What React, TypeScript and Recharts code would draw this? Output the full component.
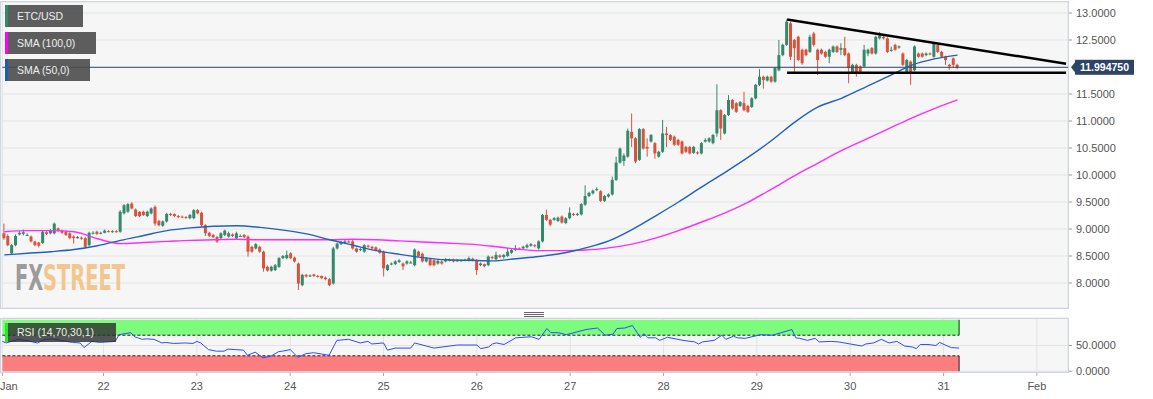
import React from 'react';
import { ComposedChart, Bar, Line, XAxis, YAxis, CartesianGrid, ReferenceLine, ReferenceArea } from 'recharts';

const W = 1153;
const SLOTS = 275; // hourly slots from Jan 20 22:00 to the right edge
const FONT = 'Arial, "Liberation Sans", sans-serif';
const GREEN = '#32896b';
const RED = '#d6543d';
const PANEL_BG = '#f6f6f6';

const tickIdx = [0, 26, 50, 74, 98, 122, 146, 170, 194, 218, 242, 266];
const tickLabels = ['Jan', '22', '23', '24', '25', '26', '27', '28', '29', '30', '31', 'Feb'];
const priceTicks = [8, 8.5, 9, 9.5, 10, 10.5, 11, 11.5, 12.5, 13];
const rsiTicks = [0, 50];
const lastPrice = 11.99475;

// hourly candles [open, high, low, close]
const ohlc: number[][] = [
  [8.92, 9.10, 8.80, 8.83], [8.87, 8.90, 8.68, 8.70], [8.55, 8.72, 8.52, 8.70], [8.70, 8.90, 8.68, 8.87],
  [8.90, 8.96, 8.88, 8.93], [8.91, 8.99, 8.88, 8.94], [8.89, 8.92, 8.87, 8.89], [8.86, 8.88, 8.75, 8.77],
  [8.77, 8.78, 8.68, 8.70], [8.75, 8.76, 8.66, 8.69], [8.74, 8.97, 8.72, 8.95], [8.94, 8.96, 8.89, 8.91],
  [8.92, 9.00, 8.90, 8.98], [8.92, 9.12, 8.90, 9.10], [9.01, 9.03, 8.95, 8.97], [8.97, 8.99, 8.91, 8.93],
  [8.95, 8.97, 8.87, 8.89], [8.92, 8.94, 8.81, 8.83], [8.86, 8.88, 8.73, 8.83], [8.83, 8.87, 8.82, 8.85],
  [8.84, 8.86, 8.80, 8.82], [8.83, 8.85, 8.64, 8.67], [8.70, 8.95, 8.68, 8.93], [8.93, 8.96, 8.90, 8.93],
  [8.95, 8.97, 8.89, 8.91], [8.92, 8.95, 8.90, 8.93], [8.93, 8.99, 8.92, 8.97], [8.96, 8.98, 8.94, 8.95],
  [8.95, 8.98, 8.93, 8.96], [8.96, 8.98, 8.93, 8.95], [8.95, 9.35, 8.93, 9.32], [9.29, 9.46, 9.27, 9.44],
  [9.32, 9.48, 9.30, 9.46], [9.47, 9.50, 9.36, 9.38], [9.36, 9.38, 9.22, 9.24], [9.32, 9.33, 9.22, 9.24],
  [9.32, 9.34, 9.24, 9.26], [9.24, 9.34, 9.22, 9.32], [9.29, 9.40, 9.27, 9.38], [9.41, 9.44, 9.06, 9.10],
  [9.15, 9.17, 9.05, 9.07], [9.06, 9.16, 9.04, 9.14], [9.14, 9.30, 9.12, 9.28], [9.28, 9.30, 9.24, 9.26],
  [9.28, 9.29, 9.22, 9.24], [9.24, 9.26, 9.20, 9.22], [9.23, 9.25, 9.20, 9.22], [9.22, 9.24, 9.19, 9.21],
  [9.20, 9.28, 9.18, 9.26], [9.20, 9.37, 9.18, 9.35], [9.35, 9.37, 9.27, 9.29], [9.30, 9.32, 9.04, 9.07],
  [9.07, 9.09, 8.87, 8.92], [8.93, 8.95, 8.85, 8.87], [8.89, 8.91, 8.83, 8.85], [8.85, 8.87, 8.74, 8.77],
  [8.83, 8.94, 8.81, 8.92], [8.89, 8.99, 8.87, 8.97], [8.86, 8.95, 8.84, 8.92], [8.90, 8.92, 8.85, 8.87],
  [8.83, 8.95, 8.81, 8.92], [8.87, 8.90, 8.85, 8.87], [8.89, 8.91, 8.83, 8.85], [8.86, 8.88, 8.49, 8.58],
  [8.67, 8.69, 8.56, 8.58], [8.64, 8.74, 8.62, 8.72], [8.67, 8.69, 8.56, 8.58], [8.58, 8.60, 8.21, 8.27],
  [8.30, 8.32, 8.21, 8.23], [8.23, 8.32, 8.21, 8.30], [8.24, 8.35, 8.22, 8.33], [8.30, 8.48, 8.28, 8.46],
  [8.46, 8.52, 8.44, 8.50], [8.46, 8.60, 8.44, 8.52], [8.55, 8.57, 8.44, 8.46], [8.47, 8.49, 8.38, 8.40],
  [8.36, 8.38, 7.87, 7.99], [7.96, 8.17, 7.94, 8.15], [8.15, 8.17, 8.10, 8.12], [8.13, 8.16, 8.11, 8.14],
  [8.16, 8.17, 8.11, 8.13], [8.13, 8.15, 8.10, 8.12], [8.13, 8.14, 8.07, 8.09], [8.10, 8.12, 8.05, 8.07],
  [8.07, 8.09, 7.94, 7.96], [7.99, 8.67, 7.97, 8.64], [8.64, 8.75, 8.62, 8.73], [8.72, 8.78, 8.70, 8.76],
  [8.74, 8.80, 8.72, 8.77], [8.77, 8.79, 8.74, 8.76], [8.77, 8.81, 8.62, 8.64], [8.64, 8.66, 8.56, 8.58],
  [8.61, 8.65, 8.59, 8.63], [8.58, 8.72, 8.56, 8.70], [8.69, 8.71, 8.65, 8.67], [8.67, 8.69, 8.62, 8.64],
  [8.66, 8.68, 8.59, 8.61], [8.62, 8.64, 8.54, 8.56], [8.58, 8.60, 8.12, 8.27], [8.24, 8.35, 8.22, 8.33],
  [8.35, 8.38, 8.33, 8.36], [8.35, 8.42, 8.33, 8.40], [8.39, 8.44, 8.37, 8.42], [8.36, 8.38, 8.24, 8.31],
  [8.36, 8.42, 8.34, 8.40], [8.38, 8.41, 8.36, 8.38], [8.33, 8.64, 8.31, 8.62], [8.58, 8.60, 8.48, 8.50],
  [8.54, 8.56, 8.38, 8.40], [8.40, 8.48, 8.38, 8.46], [8.44, 8.46, 8.31, 8.33], [8.42, 8.44, 8.31, 8.33],
  [8.36, 8.43, 8.34, 8.41], [8.40, 8.42, 8.34, 8.36], [8.40, 8.46, 8.38, 8.44], [8.42, 8.45, 8.40, 8.43],
  [8.43, 8.45, 8.38, 8.40], [8.41, 8.44, 8.39, 8.42], [8.42, 8.44, 8.40, 8.42], [8.42, 8.45, 8.40, 8.43],
  [8.42, 8.49, 8.40, 8.46], [8.45, 8.47, 8.40, 8.42], [8.42, 8.44, 8.15, 8.24], [8.33, 8.38, 8.31, 8.36],
  [8.35, 8.36, 8.29, 8.31], [8.33, 8.51, 8.31, 8.49], [8.48, 8.50, 8.44, 8.46], [8.44, 8.58, 8.42, 8.52],
  [8.51, 8.53, 8.46, 8.48], [8.48, 8.54, 8.45, 8.52], [8.50, 8.64, 8.48, 8.58], [8.56, 8.63, 8.54, 8.61],
  [8.61, 8.70, 8.59, 8.64], [8.64, 8.66, 8.61, 8.63], [8.64, 8.69, 8.62, 8.67], [8.66, 8.73, 8.64, 8.70],
  [8.69, 8.74, 8.67, 8.72], [8.70, 8.72, 8.66, 8.68], [8.64, 8.79, 8.62, 8.77], [8.77, 9.28, 8.75, 9.26],
  [9.26, 9.36, 9.15, 9.17], [9.17, 9.19, 9.05, 9.08], [9.17, 9.22, 9.15, 9.20], [9.15, 9.23, 9.13, 9.21],
  [9.23, 9.25, 9.10, 9.12], [9.11, 9.22, 9.09, 9.20], [9.20, 9.40, 9.18, 9.30], [9.28, 9.30, 9.24, 9.26],
  [9.26, 9.30, 9.24, 9.28], [9.27, 9.48, 9.25, 9.46], [9.45, 9.81, 9.43, 9.61], [9.61, 9.69, 9.59, 9.67],
  [9.66, 9.73, 9.64, 9.71], [9.72, 9.77, 9.70, 9.74], [9.70, 9.72, 9.50, 9.52], [9.52, 9.63, 9.50, 9.61],
  [9.60, 9.66, 9.58, 9.64], [9.64, 9.97, 9.62, 9.91], [9.91, 10.34, 9.89, 10.23], [10.23, 10.51, 10.21, 10.49],
  [10.26, 10.40, 10.17, 10.36], [10.34, 10.86, 10.32, 10.82], [10.80, 11.14, 10.52, 10.68], [10.68, 10.70, 10.22, 10.25],
  [10.28, 10.87, 10.26, 10.85], [10.85, 10.87, 10.47, 10.49], [10.52, 10.68, 10.34, 10.49], [10.62, 10.76, 10.60, 10.74],
  [10.59, 10.61, 10.30, 10.40], [10.34, 10.45, 10.32, 10.43], [10.43, 11.02, 10.41, 10.77], [10.77, 10.89, 10.52, 10.74],
  [10.74, 10.76, 10.63, 10.65], [10.71, 10.73, 10.54, 10.56], [10.65, 10.67, 10.54, 10.56], [10.62, 10.64, 10.38, 10.40],
  [10.52, 10.54, 10.41, 10.43], [10.52, 10.54, 10.38, 10.40], [10.41, 10.54, 10.39, 10.52], [10.42, 10.44, 10.38, 10.40],
  [10.40, 10.61, 10.38, 10.59], [10.62, 10.68, 10.60, 10.65], [10.62, 10.70, 10.60, 10.68], [10.59, 10.76, 10.57, 10.74],
  [10.77, 11.68, 10.71, 11.20], [11.20, 11.22, 10.65, 10.86], [10.77, 11.13, 10.75, 11.11], [11.11, 11.48, 11.09, 11.39],
  [11.39, 11.41, 11.21, 11.23], [11.33, 11.35, 11.15, 11.17], [11.28, 11.37, 11.26, 11.35], [11.33, 11.54, 11.18, 11.20],
  [11.28, 11.30, 11.15, 11.17], [11.26, 11.44, 11.24, 11.42], [11.42, 11.69, 11.40, 11.67], [11.67, 11.96, 11.65, 11.82],
  [11.82, 11.84, 11.60, 11.76], [11.75, 11.84, 11.73, 11.82], [11.82, 11.84, 11.71, 11.73], [11.73, 12.00, 11.71, 11.98],
  [11.94, 12.50, 11.92, 12.22], [12.22, 12.43, 12.20, 12.41], [12.41, 12.88, 12.39, 12.84], [12.81, 12.84, 12.13, 12.19],
  [12.50, 12.52, 11.91, 12.35], [12.56, 12.58, 12.11, 12.13], [12.32, 12.34, 12.04, 12.07], [12.32, 12.34, 12.20, 12.22],
  [12.28, 12.60, 12.26, 12.56], [12.62, 12.65, 12.38, 12.41], [12.32, 12.34, 11.85, 12.13], [12.32, 12.34, 12.23, 12.25],
  [12.28, 12.30, 12.17, 12.19], [12.19, 12.34, 12.07, 12.32], [12.28, 12.40, 12.26, 12.38], [12.38, 12.40, 12.26, 12.28],
  [12.32, 12.44, 12.22, 12.35], [12.35, 12.56, 12.20, 12.22], [12.25, 12.27, 11.70, 11.98], [11.91, 12.06, 11.89, 12.04],
  [12.04, 12.06, 11.82, 11.88], [12.01, 12.03, 11.89, 11.91], [12.01, 12.41, 11.99, 12.32], [12.25, 12.34, 12.20, 12.32],
  [12.35, 12.37, 12.23, 12.25], [12.25, 12.58, 12.23, 12.56], [12.53, 12.65, 12.51, 12.59], [12.56, 12.58, 12.51, 12.53],
  [12.53, 12.55, 12.26, 12.28], [12.30, 12.38, 12.28, 12.32], [12.41, 12.43, 12.30, 12.32], [12.36, 12.40, 12.34, 12.38],
  [12.25, 12.27, 12.02, 12.04], [11.91, 12.15, 11.89, 12.13], [12.10, 12.12, 11.67, 11.91], [11.94, 12.40, 11.92, 12.38],
  [12.25, 12.27, 12.17, 12.19], [12.25, 12.27, 12.17, 12.19], [12.22, 12.27, 12.20, 12.25], [12.25, 12.27, 12.22, 12.24],
  [12.19, 12.46, 12.17, 12.44], [12.41, 12.43, 12.26, 12.28], [12.28, 12.30, 12.17, 12.19], [12.19, 12.21, 12.04, 12.13],
  [12.04, 12.06, 11.95, 12.01], [12.16, 12.18, 11.98, 12.04], [12.04, 12.06, 11.96, 11.99475],
];

// moving averages read every 6 hours
const SMA_STEP = 6;
const sma50 = [
  8.52, 8.55, 8.58, 8.62, 8.69, 8.79, 8.88, 8.97, 9.02, 9.05, 9.06, 9.03, 8.98, 8.91, 8.80, 8.70, 8.60, 8.53, 8.47, 8.43, 8.42,
  8.41, 8.45, 8.49, 8.55, 8.65, 8.78, 8.99, 9.24, 9.50, 9.78, 10.05, 10.33, 10.64, 10.98, 11.26, 11.42, 11.62, 11.82, 12.03, 12.15, 12.22,
];
const sma100 = [
  8.95, 8.97, 8.97, 8.95, 8.82, 8.73, 8.75, 8.77, 8.79, 8.80, 8.81, 8.80, 8.80, 8.80, 8.80, 8.81, 8.80, 8.78, 8.76, 8.74, 8.72,
  8.68, 8.63, 8.60, 8.60, 8.61, 8.65, 8.72, 8.83, 8.97, 9.13, 9.30, 9.50, 9.74, 9.99, 10.22, 10.45, 10.65, 10.85, 11.05, 11.23, 11.39,
];

// RSI (14) samples: [slot, value]
const rsiPoints: number[][] = [
  [0, 58], [1, 55], [4, 62], [6, 60], [9, 55], [11, 62], [13, 63], [15, 60], [18, 56], [20, 55], [21, 46], [23, 58], [25, 56],
  [29, 58], [30, 71], [33, 75], [34, 67], [36, 62], [37, 63], [39, 62], [41, 55], [42, 56], [44, 54], [47, 55], [49, 54],
  [50, 58], [51, 55], [53, 42], [55, 39], [57, 39], [58, 43], [60, 42], [62, 41], [63, 31], [65, 37], [67, 26], [69, 29],
  [71, 38], [72, 39], [74, 42], [76, 27], [78, 34], [80, 36], [84, 31], [86, 60], [89, 62], [92, 55], [94, 58], [95, 53],
  [98, 55], [99, 41], [101, 45], [105, 45], [106, 55], [109, 49], [111, 45], [115, 49], [117, 51], [122, 51], [123, 44],
  [125, 47], [126, 53], [127, 55], [129, 52], [132, 65], [136, 67], [138, 62], [140, 83], [141, 75], [143, 75], [145, 71],
  [147, 75], [150, 81], [153, 84], [155, 70], [157, 72], [158, 83], [160, 84], [162, 89], [164, 66], [165, 73], [166, 65],
  [168, 65], [169, 60], [171, 66], [175, 60], [178, 57], [179, 53], [180, 57], [183, 60], [185, 70], [186, 62], [188, 68],
  [189, 65], [191, 64], [195, 71], [198, 70], [203, 81], [204, 65], [205, 64], [207, 60], [209, 64], [210, 57], [213, 58],
  [215, 57], [218, 53], [221, 49], [222, 53], [224, 55], [226, 62], [228, 55], [230, 58], [232, 49], [234, 47], [235, 44],
  [236, 52], [238, 52], [240, 50], [241, 56], [243, 49], [244, 46], [246, 45],
];

// hand-drawn triangle lines
const trendTop = [{ x: 202, y: 12.88 }, { x: 274, y: 12.06 }];
const support = [{ x: 202, y: 11.894 }, { x: 274, y: 11.894 }];
const LAST = ohlc.length - 1;

const rsiMap = new Map(rsiPoints.map(([i, v]) => [i, v]));
const rows = Array.from({ length: SLOTS }, (_, i) => {
  const c = ohlc[i];
  const k = i / SMA_STEP;
  return {
    i,
    range: c ? [c[2], c[1]] : null,
    o: c ? c[0] : null,
    h: c ? c[1] : null,
    l: c ? c[2] : null,
    c: c ? c[3] : null,
    sma50: Number.isInteger(k) && k < sma50.length ? sma50[k] : null,
    sma100: Number.isInteger(k) && k < sma100.length ? sma100[k] : null,
    rsi: rsiMap.has(i) ? rsiMap.get(i) : null,
  };
});

const Candle = (props: any) => {
  const { x, y, width, height, payload } = props;
  if (!payload || payload.h == null || !height) return null;
  const { o, h, l, c } = payload;
  const py = (v: number) => y + ((h - v) / (h - l)) * height;
  const color = c >= o ? GREEN : RED;
  const cx = x + width / 2;
  const top = py(Math.max(o, c));
  const bh = Math.max(1, py(Math.min(o, c)) - top);
  return (
    <g>
      <line x1={cx} x2={cx} y1={y} y2={y + height} stroke={color} strokeWidth={1} />
      <rect x={cx - 1.5} y={top} width={3} height={bh} fill={color} />
    </g>
  );
};

const PriceTag = (props: any) => {
  const { viewBox } = props;
  if (!viewBox) return null;
  const x0 = viewBox.x + viewBox.width + 3;
  const y0 = viewBox.y;
  return (
    <g>
      <polygon points={`${x0},${y0} ${x0 + 4},${y0 - 5} ${x0 + 4},${y0 + 5}`} fill="#2d4466" />
      <rect x={x0 + 4} y={y0 - 7.5} width={59} height={15} fill="#2d4466" />
      <text x={x0 + 33.5} y={y0} dy="0.36em" textAnchor="middle" fill="#fff" fontSize={10.5} fontWeight="bold" fontFamily={FONT}>
        {lastPrice.toFixed(6)}
      </text>
    </g>
  );
};

const XTick = (props: any) => {
  const { x, y, payload } = props;
  const k = tickIdx.indexOf(payload.value);
  if (k < 0) return null;
  const first = k === 0;
  return (
    <text x={first ? 0 : x} y={y} dy="0.71em" textAnchor={first ? 'start' : 'middle'} fill="#555" fontSize={11} fontFamily={FONT}>
      {tickLabels[k]}
    </text>
  );
};

const legendBox = (top: number, width: number, height: number, stripe: string, bg: string): React.CSSProperties => ({
  position: 'absolute',
  left: 5,
  top,
  width,
  height,
  background: bg,
  borderLeft: `3px solid ${stripe}`,
  boxSizing: 'border-box',
  color: '#eee',
  fontFamily: FONT,
  fontSize: 10.5,
  lineHeight: `${height}px`,
  paddingLeft: 9,
  whiteSpace: 'nowrap',
});

const panel = (top: number, height: number, withBg: boolean): React.CSSProperties => ({
  position: 'absolute',
  left: 0,
  top,
  width: 1069,
  height,
  border: '1px solid #cdd5e3',
  boxSizing: 'border-box',
  background: withBg ? PANEL_BG : 'transparent',
  pointerEvents: 'none',
});

const yTick = { fill: '#555', fontSize: 11, fontFamily: FONT };
const chartMargin = { left: 2.4, right: 0, bottom: 0 };
const WM_FONT = '"DejaVu Sans Condensed", "DejaVu Sans", sans-serif';

export default function App() {
  return (
    <div style={{ position: 'absolute', left: 0, top: 0, width: W, height: 399, background: '#fff', overflow: 'hidden' }}>
      <div style={panel(1, 308, true)} />
      <div style={panel(318, 55, true)} />

      <div style={{ position: 'absolute', left: 0, top: 0 }}>
        <ComposedChart width={W} height={310} data={rows} margin={{ ...chartMargin, top: 2 }}>
          <CartesianGrid stroke="#e3e3e3" fill="none" />
          <XAxis dataKey="i" ticks={tickIdx} interval={0} height={2} tick={false} tickLine={false} axisLine={false} />
          <YAxis
            orientation="right"
            width={85}
            domain={[7.537, 13.204]}
            allowDataOverflow
            ticks={priceTicks}
            interval={0}
            tickFormatter={(v: number) => v.toFixed(4)}
            tick={yTick}
            tickSize={4}
            tickMargin={4}
            tickLine={{ stroke: '#999' }}
            axisLine={false}
          />
          <ReferenceLine y={lastPrice} stroke="#2d4466" strokeWidth={1} label={<PriceTag />} />
          <Line dataKey="sma100" stroke="#ff2bff" strokeWidth={1.4} dot={false} connectNulls type="monotone" isAnimationActive={false} />
          <Line dataKey="sma50" stroke="#1f60c0" strokeWidth={1.4} dot={false} connectNulls type="monotone" isAnimationActive={false} />
          <Bar dataKey="range" barSize={3} shape={<Candle />} isAnimationActive={false} />
          <ReferenceLine segment={trendTop} stroke="#000" strokeWidth={2.5} ifOverflow="visible" />
          <ReferenceLine segment={support} stroke="#000" strokeWidth={2.5} ifOverflow="visible" />
        </ComposedChart>
      </div>

      <div style={{ position: 'absolute', left: 0, top: 310 }}>
        <ComposedChart width={W} height={89} data={rows} margin={{ ...chartMargin, top: 8 }}>
          <CartesianGrid stroke="#e3e3e3" fill="none" />
          <XAxis
            dataKey="i"
            ticks={tickIdx}
            interval={0}
            height={27}
            axisLine={false}
            tickSize={4}
            tickMargin={6}
            tickLine={{ stroke: '#aaa' }}
            tick={<XTick />}
          />
          <YAxis
            orientation="right"
            width={85}
            domain={[-1.5, 103.5]}
            allowDataOverflow
            ticks={rsiTicks}
            interval={0}
            tickFormatter={(v: number) => v.toFixed(4)}
            tick={yTick}
            tickSize={4}
            tickMargin={4}
            tickLine={{ stroke: '#999' }}
            axisLine={false}
          />
          <ReferenceArea x1={0} x2={LAST} y1={70} y2={100} fill="#7dfb7d" fillOpacity={1} stroke="none" />
          <ReferenceArea x1={0} x2={LAST} y1={0} y2={30} fill="#fc7d7d" fillOpacity={1} stroke="none" />
          <ReferenceLine segment={[{ x: 0, y: 70 }, { x: LAST, y: 70 }]} stroke="#222" strokeDasharray="3 2" />
          <ReferenceLine segment={[{ x: 0, y: 30 }, { x: LAST, y: 30 }]} stroke="#222" strokeDasharray="3 2" />
          <ReferenceLine segment={[{ x: LAST, y: 70 }, { x: LAST, y: 100 }]} position="end" stroke="#222" />
          <ReferenceLine segment={[{ x: LAST, y: 0 }, { x: LAST, y: 30 }]} position="end" stroke="#222" />
          <Line dataKey="rsi" stroke="#2a4cff" strokeWidth={1} dot={false} connectNulls type="linear" isAnimationActive={false} />
        </ComposedChart>
      </div>

      <div style={panel(1, 308, false)} />
      <div style={panel(318, 55, false)} />

      <div style={{ position: 'absolute', left: 524, top: 312, width: 20 }}>
        {[0, 1, 2].map((k) => (
          <div key={k} style={{ height: 1, background: '#666', marginBottom: 1 }} />
        ))}
      </div>

      <svg style={{ position: 'absolute', left: 0, top: 0 }} width={200} height={300}>
        <g transform="translate(15,290) scale(0.6,1)">
          <text x={0} y={0} fontSize={36} fontWeight="bold" fill="#9b9b9b" fontFamily={WM_FONT}>FX</text>
        </g>
        <g transform="translate(43,290) scale(0.6,1)">
          <text x={0} y={0} fontSize={36} fontWeight="bold" fill="#f3c690" fontFamily={WM_FONT}>STREET</text>
        </g>
      </svg>

      <div style={legendBox(5, 78, 22, '#2e8b6e', 'rgba(72,72,72,0.88)')}>ETC/USD</div>
      <div style={legendBox(32, 91, 22, '#ff00ff', 'rgba(72,72,72,0.88)')}>SMA (100,0)</div>
      <div style={legendBox(59, 85, 22, '#1a5fb4', 'rgba(72,72,72,0.88)')}>SMA (50,0)</div>
      <div style={legendBox(323, 111, 19, '#22ee22', 'rgba(45,45,45,0.8)')}>RSI (14,70,30,1)</div>
    </div>
  );
}
